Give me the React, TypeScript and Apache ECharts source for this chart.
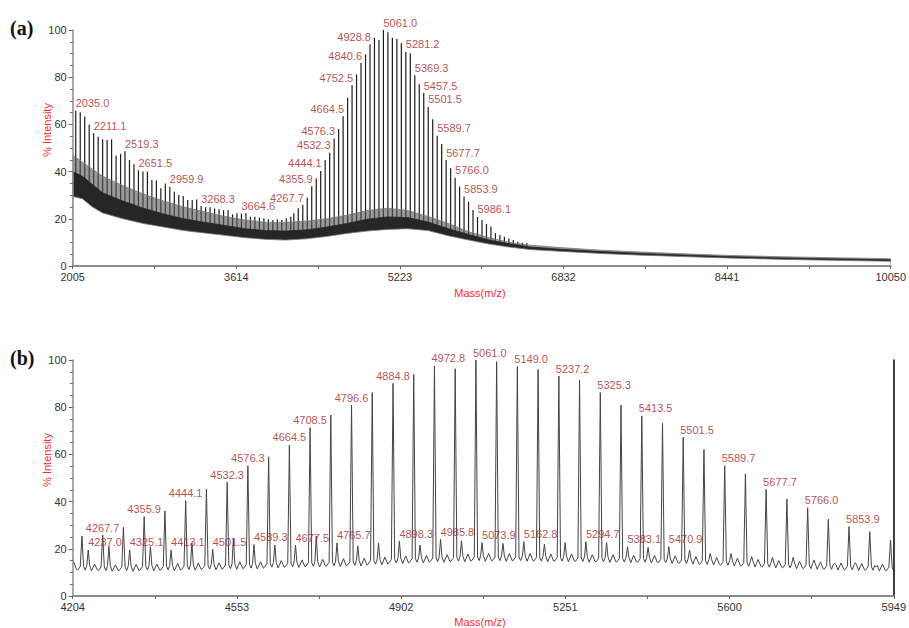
import React, { useEffect, useRef } from "react";
import * as echarts from "echarts";

// ================= (a) full spectrum =================
const topPeakMz = [
  2035.0, 2079.1, 2123.2, 2167.3, 2211.1, 2255.2, 2299.3, 2343.4, 2387.5, 2431.6,
  2475.7, 2519.3, 2563.4, 2607.5, 2651.5, 2695.6, 2739.7, 2783.8, 2827.9, 2872.0,
  2916.1, 2959.9, 3004.0, 3048.1, 3092.2, 3136.3, 3180.4, 3224.5, 3268.3, 3312.4,
  3356.5, 3400.6, 3444.7, 3488.8, 3532.9, 3577.0, 3620.5, 3664.6, 3708.7, 3752.8,
  3796.9, 3841.0, 3885.1, 3929.2, 3973.3, 4017.4, 4061.5, 4105.6, 4149.7,
  4179.5, 4223.6, 4267.7, 4311.8, 4355.9, 4400.0, 4444.1, 4488.2, 4532.3, 4576.3,
  4620.4, 4664.5, 4708.5, 4752.5, 4796.6, 4840.6, 4884.8, 4928.8, 4972.8, 5016.9,
  5061.0, 5105.0, 5149.0, 5193.1, 5237.2, 5281.2, 5325.3, 5369.3, 5413.5, 5457.5,
  5501.5, 5545.6, 5589.7, 5633.7, 5677.7, 5721.9, 5766.0, 5809.9, 5853.9, 5898.0,
  5942.1, 5986.1, 6030.2, 6074.3, 6118.4, 6162.5, 6206.6, 6250.7, 6294.8, 6338.9,
  6383.0, 6427.1, 6471.2,
];
const topPeakInt = [
  65.8, 65.1, 63.3, 60, 56.2, 54.8, 53.7, 53.4, 53.7, 46.8,
  47.5, 48.6, 44.9, 43.1, 40.6, 40, 40, 36.4, 36.2, 32.9,
  35, 33.5, 31.5, 30.1, 29.7, 28, 28, 28.2, 25.4, 24.9,
  24.9, 24.4, 24, 23.7, 23.7, 21.9, 22.3, 22.2, 22.3, 20.9,
  20.9, 20.6, 20.2, 19.8, 19.5, 19.8, 19.5, 20.2, 20.9,
  22.3, 24.5, 25.8, 29, 33.8, 37.1, 40.3, 44.9, 48, 54,
  58, 63.5, 71.3, 76.6, 81.2, 86, 89.7, 94, 96.7, 95.8,
  100, 99, 96.7, 96.2, 94.4, 90.7, 90.1, 80.8, 77, 73.3,
  67.4, 62.2, 55.2, 51.7, 44.9, 41.4, 37.4, 33.6, 29.4, 27.2,
  23.7, 20.8, 19.5, 17.8, 16.7, 13.9, 13.1, 12.4, 11.7, 11,
  10.3, 9.9, 9.6,
];
// dense background envelope (lower edge, dark core top, grey halo top)
const topBandMz = [
  2005, 2100, 2200, 2300, 2500, 2700, 2900, 3100, 3300, 3500, 3700, 3900, 4100,
  4300, 4500, 4700, 4900, 5100, 5300, 5500, 5700, 5900, 6100, 6300, 6500, 6800,
  7200, 7600, 8000, 8441, 9000, 9500, 10050,
];
const topBandLow = [
  29.5, 28.5, 25, 22.5, 20, 18, 16.5, 15, 14, 13, 12, 11.3, 11,
  11.5, 12.5, 13.8, 14.8, 15.5, 15.8, 15, 12.8, 11, 9.3, 8, 7, 6.2,
  5.3, 4.6, 4, 3.4, 2.8, 2.4, 2,
];
const topBandCore = [
  40, 38, 34.5, 31, 27.5, 24.5, 22, 20, 18.5, 17.2, 15.8, 15, 14.8,
  15.3, 16.5, 18, 19.8, 20.8, 20.5, 18.6, 15.8, 13.3, 11, 9.4, 8.1, 7.1,
  6.1, 5.3, 4.7, 4.0, 3.4, 3.0, 2.6,
];
const topBandHigh = [
  47, 44, 41, 38, 34, 30.5, 27.5, 25, 23, 21, 19.5, 18.5, 18.5,
  19, 20, 21.5, 23.5, 24.5, 23.5, 21, 18, 14.5, 12, 10, 8.8, 7.8,
  6.7, 5.9, 5.2, 4.5, 3.9, 3.5, 3.1,
];
const topLabels = [
  2035.0, 2211.1, 2519.3, 2651.5, 2959.9, 3268.3, 3664.6, 4267.7, 4355.9, 4444.1,
  4532.3, 4576.3, 4664.5, 4752.5, 4840.6, 4928.8, 5061.0, 5281.2, 5369.3, 5457.5,
  5501.5, 5589.7, 5677.7, 5766.0, 5853.9, 5986.1,
];
const topLabelSide = [
  "l", "l", "l", "l", "l", "l", "l", "r", "r", "r",
  "r", "r", "r", "r", "r", "r", "l", "l", "l", "l",
  "l", "l", "l", "l", "l", "l",
];
const topXTicks = [2005, 3614, 5223, 6832, 8441, 10050];

// ================= (b) zoomed spectrum =================
const leadMz = [4204, 4208, 4212];
const leadInt = [15.5, 13.5, 11.2];
const mainMzB = [
  4223.6, 4267.7, 4311.8, 4355.9, 4400.0, 4444.1, 4488.2, 4532.3, 4576.3, 4620.4,
  4664.5, 4708.5, 4752.5, 4796.6, 4840.6, 4884.8, 4928.8, 4972.8, 5016.9, 5061.0,
  5105.0, 5149.0, 5193.1, 5237.2, 5281.2, 5325.3, 5369.3, 5413.5, 5457.5, 5501.5,
  5545.6, 5589.7, 5633.7, 5677.7, 5721.9, 5766.0, 5809.9, 5853.9, 5898.0, 5942.1,
];
const mainIntB = [
  25.4, 25.8, 29.1, 33.6, 36.0, 40.4, 45.3, 48.2, 55.2, 59.0,
  64.0, 71.3, 76.7, 80.9, 86.2, 90.1, 93.9, 97.5, 96.3, 100,
  99.3, 97.2, 96.0, 93.2, 91.5, 86.2, 80.9, 76.3, 73.2, 67.2,
  62.1, 55.2, 51.7, 45.2, 41.1, 37.4, 32.5, 29.4, 27.3, 23.7,
];
const secMzB = [
  4237.0, 4281.0, 4325.1, 4369.2, 4413.1, 4457.4, 4501.5, 4545.6, 4589.3, 4633.6,
  4677.5, 4721.7, 4765.7, 4809.9, 4854.0, 4898.3, 4942.2, 4985.8, 5030.3, 5073.9,
  5118.4, 5162.8, 5206.5, 5250.6, 5294.7, 5338.7, 5383.1, 5426.9, 5470.9, 5515.0,
  5559.0, 5603.1, 5647.1, 5691.2, 5735.3, 5779.4, 5823.3, 5867.3, 5911.4,
];
const secIntB = [
  19.5, 21.0, 19.5, 20.9, 19.5, 22.6, 19.8, 24.4, 21.8, 21.6,
  21.6, 25.4, 22.5, 21.2, 22.5, 23.3, 21.6, 24.0, 23.4, 22.6,
  22.3, 23.0, 22.0, 22.6, 23.0, 22.6, 20.9, 20.6, 20.9, 19.5,
  18.0, 18.0, 16.7, 16.4, 16.4, 15.3, 13.8, 14.1, 12.4,
];
const valleyB = [
  11.0, 10.8, 10.8, 11.0, 11.0, 11.2, 11.4, 11.6, 11.8, 12.2,
  12.4, 12.6, 12.8, 13.0, 13.5, 14.0, 14.3, 14.6, 14.8, 15.0,
  15.0, 15.0, 14.8, 14.8, 14.6, 14.5, 14.4, 14.3, 14.1, 13.8,
  13.4, 13.0, 12.6, 12.2, 11.9, 11.6, 11.3, 11.1, 10.9, 10.7,
];
const bumpB = [
  13.5, 13.2, 13.4, 13.5, 13.8, 14.0, 14.0, 14.5, 14.5, 15.0,
  15.3, 15.5, 15.8, 16.0, 16.5, 17.0, 17.2, 17.5, 17.8, 18.0,
  18.0, 18.0, 17.8, 17.8, 17.5, 17.5, 17.3, 17.2, 17.0, 16.7,
  16.3, 16.0, 15.5, 15.0, 14.7, 14.4, 14.0, 13.8, 13.5, 13.3,
];
const bottomMainLabels = [
  4267.7, 4355.9, 4444.1, 4532.3, 4576.3, 4664.5, 4708.5, 4796.6, 4884.8, 4972.8,
  5061.0, 5149.0, 5237.2, 5325.3, 5413.5, 5501.5, 5589.7, 5677.7, 5766.0, 5853.9,
];
const bottomMainSide = [
  "c", "c", "c", "c", "c", "c", "c", "c", "c", "l",
  "l", "l", "l", "l", "l", "l", "l", "l", "l", "l",
];
const bottomSecLabels = [
  4237.0, 4325.1, 4413.1, 4501.5, 4589.3, 4677.5, 4765.7, 4898.3, 4985.8, 5073.9,
  5162.8, 5294.7, 5383.1, 5470.9,
];
const bottomXTicks = [4204, 4553, 4902, 5251, 5600, 5949];

// ================= helpers =================
const LABEL_RED = "#a81d24";
const TITLE_RED = "#ff2b2b";
const SANS = "'Liberation Sans', Arial, sans-serif";

function nearestIndex(arr: number[], v: number) {
  let best = 0;
  for (let i = 1; i < arr.length; i++) if (Math.abs(arr[i] - v) < Math.abs(arr[best] - v)) best = i;
  return best;
}

function withMinor(ticks: number[]) {
  const out: number[] = [];
  ticks.forEach((t, i) => {
    out.push(t);
    if (i < ticks.length - 1) out.push((t + ticks[i + 1]) / 2);
  });
  return out;
}

function xAxisCfg(gridIndex: number, ticks: number[]) {
  return {
    type: "value",
    gridIndex,
    min: ticks[0],
    max: ticks[ticks.length - 1],
    z: 10,
    axisLine: { show: true, onZero: false, lineStyle: { color: "#8c8c8c", width: 2 } },
    axisTick: { show: true, length: 3, customValues: withMinor(ticks), lineStyle: { color: "#666", width: 1 } },
    axisLabel: {
      customValues: ticks,
      formatter: (v: number) => String(Math.round(v)),
      fontSize: 11,
      lineHeight: 11,
      color: "#333",
      margin: 5.5,
      fontFamily: SANS,
      hideOverlap: false,
    },
    splitLine: { show: false },
  };
}

function yAxisCfg(gridIndex: number) {
  return {
    type: "value",
    gridIndex,
    min: 0,
    max: 100,
    interval: 20,
    z: 10,
    axisLine: { show: true, lineStyle: { color: "#8c8c8c", width: 1.5 } },
    axisTick: { show: true, length: 4, lineStyle: { color: "#666" } },
    minorTick: { show: true, splitNumber: 4, length: 2.5, lineStyle: { color: "#666" } },
    axisLabel: { fontSize: 11, lineHeight: 10, color: "#333", margin: 6, fontFamily: SANS },
    splitLine: { show: false },
    minorSplitLine: { show: false },
  };
}

function labelItem(mz: number, h: number, side: string) {
  const align = side === "l" ? "left" : side === "r" ? "right" : "center";
  const dx = side === "r" ? 1 : 0;
  return { value: [mz, h], label: { align, offset: [dx, 0] } };
}

function labelSeries(xi: number, yi: number, data: any[]) {
  return {
    type: "scatter",
    xAxisIndex: xi,
    yAxisIndex: yi,
    symbol: "circle",
    symbolSize: 1,
    itemStyle: { color: "rgba(0,0,0,0)" },
    silent: true,
    clip: false,
    z: 6,
    data,
    label: {
      show: true,
      position: "top",
      distance: 1.5,
      formatter: (p: any) => Number(p.value[0]).toFixed(1),
      color: LABEL_RED,
      fontSize: 11,
      fontFamily: SANS,
    },
  };
}

export default function App() {
  const ref = useRef<HTMLDivElement>(null);

  useEffect(() => {
    if (!ref.current) return;
    const chart = echarts.init(ref.current, undefined, { renderer: "svg" });

    // bottom trace from peak tables
    const bottomTrace: number[][] = [];
    leadMz.forEach((m, i) => bottomTrace.push([m, leadInt[i]]));
    mainMzB.forEach((m, i) => {
      const v = valleyB[i];
      bottomTrace.push([m - 9, v], [m - 3.5, v + 1.5], [m, mainIntB[i]], [m + 3.5, v + 1.5], [m + 7, v]);
      if (i < secMzB.length) {
        const s = secMzB[i];
        bottomTrace.push(
          [s - 3, v + 2],
          [s, secIntB[i]],
          [s + 3, v + 2],
          [s + 7, v - 0.3],
          [m + 27, bumpB[i]],
          [m + 33, v]
        );
      }
    });

    const topLabelData = topLabels.map((l, i) => {
      const k = nearestIndex(topPeakMz, l);
      return labelItem(l, topPeakInt[k], topLabelSide[i]);
    });
    const bottomLabelData = [
      ...bottomMainLabels.map((l, i) => {
        const k = nearestIndex(mainMzB, l);
        const it: any = labelItem(l, mainIntB[k], bottomMainSide[i]);
        if (bottomMainSide[i] === "l") it.label.offset = [-3, 0];
        return it;
      }),
      ...bottomSecLabels.map((l) => {
        const k = nearestIndex(secMzB, l);
        return labelItem(l, secIntB[k], "l");
      }),
    ];

    const option: any = {
      animation: false,
      backgroundColor: "#ffffff",
      grid: [
        { left: 72.7, top: 30, width: 822, height: 236 },
        { left: 72.7, top: 360, width: 822, height: 236 },
      ],
      xAxis: [xAxisCfg(0, topXTicks), xAxisCfg(1, bottomXTicks)],
      yAxis: [
        yAxisCfg(0),
        yAxisCfg(1),
        {
          type: "value",
          gridIndex: 1,
          position: "right",
          min: 0,
          max: 100,
          z: 10,
          axisLine: { show: true, lineStyle: { color: "#111", width: 1.6 } },
          axisTick: { show: false },
          axisLabel: { show: false },
          splitLine: { show: false },
        },
      ],
      series: [
        {
          type: "bar",
          xAxisIndex: 0,
          yAxisIndex: 0,
          barWidth: 1.2,
          itemStyle: { color: "#1c1c1c" },
          silent: true,
          z: 1,
          data: topPeakMz.map((m, i) => [m, topPeakInt[i]]),
        },
        {
          type: "line",
          xAxisIndex: 0,
          yAxisIndex: 0,
          showSymbol: false,
          silent: true,
          z: 2,
          lineStyle: { color: "#777", width: 0.8 },
          areaStyle: { color: "#555555", opacity: 0.6 },
          data: topBandMz.map((m, i) => [m, topBandHigh[i]]),
        },
        {
          type: "line",
          xAxisIndex: 0,
          yAxisIndex: 0,
          showSymbol: false,
          silent: true,
          z: 3,
          lineStyle: { color: "#262626", width: 0.8 },
          areaStyle: { color: "#262626", opacity: 1 },
          data: topBandMz.map((m, i) => [m, topBandCore[i]]),
        },
        {
          type: "line",
          xAxisIndex: 0,
          yAxisIndex: 0,
          showSymbol: false,
          silent: true,
          z: 4,
          lineStyle: { color: "#777", width: 0.8 },
          areaStyle: { color: "#ffffff", opacity: 1 },
          data: topBandMz.map((m, i) => [m, topBandLow[i]]),
        },
        labelSeries(0, 0, topLabelData),
        {
          type: "line",
          xAxisIndex: 1,
          yAxisIndex: 1,
          showSymbol: false,
          silent: true,
          clip: true,
          z: 2,
          lineStyle: { color: "#444", width: 1 },
          data: bottomTrace,
        },
        labelSeries(1, 1, bottomLabelData),
      ],
      graphic: [
        {
          type: "text",
          x: 10,
          y: 27.5,
          style: {
            text: "(a)",
            fill: "#111",
            font: "bold 20px 'Liberation Serif', 'Times New Roman', serif",
            textVerticalAlign: "middle",
            verticalAlign: "middle",
          },
        },
        {
          type: "text",
          x: 10,
          y: 357.5,
          style: {
            text: "(b)",
            fill: "#111",
            font: "bold 20px 'Liberation Serif', 'Times New Roman', serif",
            textVerticalAlign: "middle",
            verticalAlign: "middle",
          },
        },
        ...[130, 460].map((cy) => ({
          type: "text",
          x: 47,
          y: cy,
          rotation: Math.PI / 2,
          style: {
            text: "% Intensity",
            fill: TITLE_RED,
            font: `11px ${SANS}`,
            textAlign: "center",
            align: "center",
            textVerticalAlign: "middle",
            verticalAlign: "middle",
          },
        })),
        ...[293, 622].map((cy) => ({
          type: "text",
          x: 480,
          y: cy,
          style: {
            text: "Mass(m/z)",
            fill: TITLE_RED,
            font: `11px ${SANS}`,
            textAlign: "center",
            align: "center",
            textVerticalAlign: "middle",
            verticalAlign: "middle",
          },
        })),
      ],
    };

    chart.setOption(option);
    return () => chart.dispose();
  }, []);

  return (
    <div
      ref={ref}
      style={{ position: "fixed", left: 0, top: 0, width: 909, height: 628, background: "#fff" }}
    />
  );
}
